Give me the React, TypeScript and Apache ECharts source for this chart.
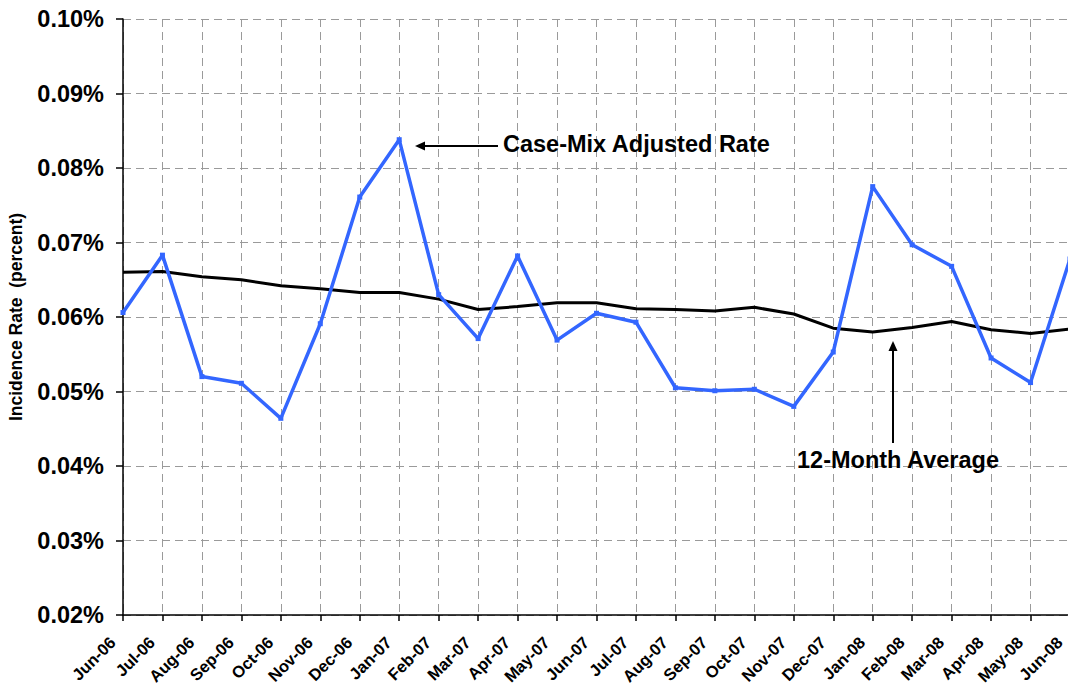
import React, { useEffect, useRef } from "react";
import * as echarts from "echarts";

const categories = [
  "Jun-06", "Jul-06", "Aug-06", "Sep-06", "Oct-06", "Nov-06", "Dec-06",
  "Jan-07", "Feb-07", "Mar-07", "Apr-07", "May-07", "Jun-07", "Jul-07",
  "Aug-07", "Sep-07", "Oct-07", "Nov-07", "Dec-07", "Jan-08", "Feb-08",
  "Mar-08", "Apr-08", "May-08", "Jun-08",
];

const caseMixRate = [
  0.0606, 0.0683, 0.052, 0.0511, 0.0464, 0.0591, 0.0761, 0.0838, 0.063,
  0.0571, 0.0682, 0.0569, 0.0605, 0.0593, 0.0505, 0.0501, 0.0503, 0.048,
  0.0553, 0.0775, 0.0697, 0.0668, 0.0545, 0.0512, 0.0678,
];

const movingAverage = [
  0.066, 0.0661, 0.0654, 0.065, 0.0642, 0.0638, 0.0633, 0.0633, 0.0624,
  0.061, 0.0614, 0.0619, 0.0619, 0.0611, 0.061, 0.0608, 0.0613, 0.0604,
  0.0585, 0.058, 0.0586, 0.0594, 0.0583, 0.0578, 0.0584,
];

const FONT = '"Liberation Sans", Arial, Helvetica, sans-serif';

export default function App() {
  const ref = useRef<HTMLDivElement>(null);

  useEffect(() => {
    if (!ref.current) return;
    const chart = echarts.init(ref.current, null, { renderer: "svg" });
    chart.setOption({
      animation: false,
      backgroundColor: "#ffffff",
      textStyle: { fontFamily: FONT },
      grid: {
        left: 123,
        right: 0,
        top: 19,
        bottom: 71,
        containLabel: false,
        outerBoundsMode: "none",
      },
      xAxis: {
        type: "category",
        data: categories,
        boundaryGap: false,
        axisLine: { show: true, lineStyle: { color: "#000", width: 1.5 } },
        axisTick: { show: true, length: 6, lineStyle: { color: "#000", width: 1.5 } },
        axisLabel: {
          rotate: 45,
          interval: 0,
          margin: 14,
          padding: [0, 15, 0, 0],
          fontSize: 16.5,
          fontWeight: "bold",
          color: "#000",
          fontFamily: FONT,
        },
        splitLine: {
          show: true,
          lineStyle: { color: "#9a9a9a", width: 1, type: [8, 5] },
        },
      },
      yAxis: {
        type: "value",
        min: 0.02,
        max: 0.1,
        interval: 0.01,
        name: "Incidence Rate  (percent)",
        nameLocation: "middle",
        nameRotate: 90,
        nameGap: 98,
        nameTextStyle: {
          fontSize: 17.5,
          fontWeight: "bold",
          color: "#000",
          fontFamily: FONT,
        },
        axisLine: { show: true, lineStyle: { color: "#000", width: 1.5 } },
        axisTick: { show: true, length: 7, lineStyle: { color: "#000", width: 1.5 } },
        axisLabel: {
          margin: 19,
          fontSize: 23.5,
          fontWeight: "bold",
          color: "#000",
          fontFamily: FONT,
          formatter: (v: number) => v.toFixed(2) + "%",
        },
        splitLine: {
          show: true,
          lineStyle: { color: "#9a9a9a", width: 1, type: [8, 5] },
        },
      },
      series: [
        {
          name: "12-Month Average",
          type: "line",
          data: movingAverage,
          showSymbol: false,
          symbol: "none",
          lineStyle: { color: "#000", width: 3 },
          itemStyle: { color: "#000" },
          z: 2,
        },
        {
          name: "Case-Mix Adjusted Rate",
          type: "line",
          data: caseMixRate,
          symbol: "rect",
          symbolSize: 5,
          showSymbol: true,
          lineStyle: { color: "#3366ff", width: 3.5 },
          itemStyle: { color: "#3366ff" },
          z: 3,
        },
      ],
      graphic: [
        {
          type: "line",
          shape: { x1: 498, y1: 146, x2: 422, y2: 146 },
          style: { stroke: "#000", lineWidth: 2 },
          z: 10,
        },
        {
          type: "polygon",
          shape: { points: [[415, 146], [425, 141.5], [425, 150.5]] },
          style: { fill: "#000" },
          z: 10,
        },
        {
          type: "text",
          x: 503,
          y: 144,
          style: {
            text: "Case-Mix Adjusted Rate",
            fontSize: 23.5,
            fontWeight: "bold",
            fontFamily: FONT,
            fill: "#000",
            verticalAlign: "middle",
            align: "left",
          },
          z: 10,
        },
        {
          type: "line",
          shape: { x1: 893, y1: 443, x2: 893, y2: 349 },
          style: { stroke: "#000", lineWidth: 2 },
          z: 10,
        },
        {
          type: "polygon",
          shape: { points: [[893, 341], [888.5, 351], [897.5, 351]] },
          style: { fill: "#000" },
          z: 10,
        },
        {
          type: "text",
          x: 797,
          y: 460,
          style: {
            text: "12-Month Average",
            fontSize: 23.5,
            fontWeight: "bold",
            fontFamily: FONT,
            fill: "#000",
            verticalAlign: "middle",
            align: "left",
          },
          z: 10,
        },
      ],
    });
    return () => chart.dispose();
  }, []);

  return (
    <div
      style={{
        position: "fixed",
        left: 0,
        top: 0,
        width: 1068,
        height: 686,
        overflow: "hidden",
        background: "#fff",
      }}
    >
      <div ref={ref} style={{ width: 1070, height: 686 }} />
    </div>
  );
}
